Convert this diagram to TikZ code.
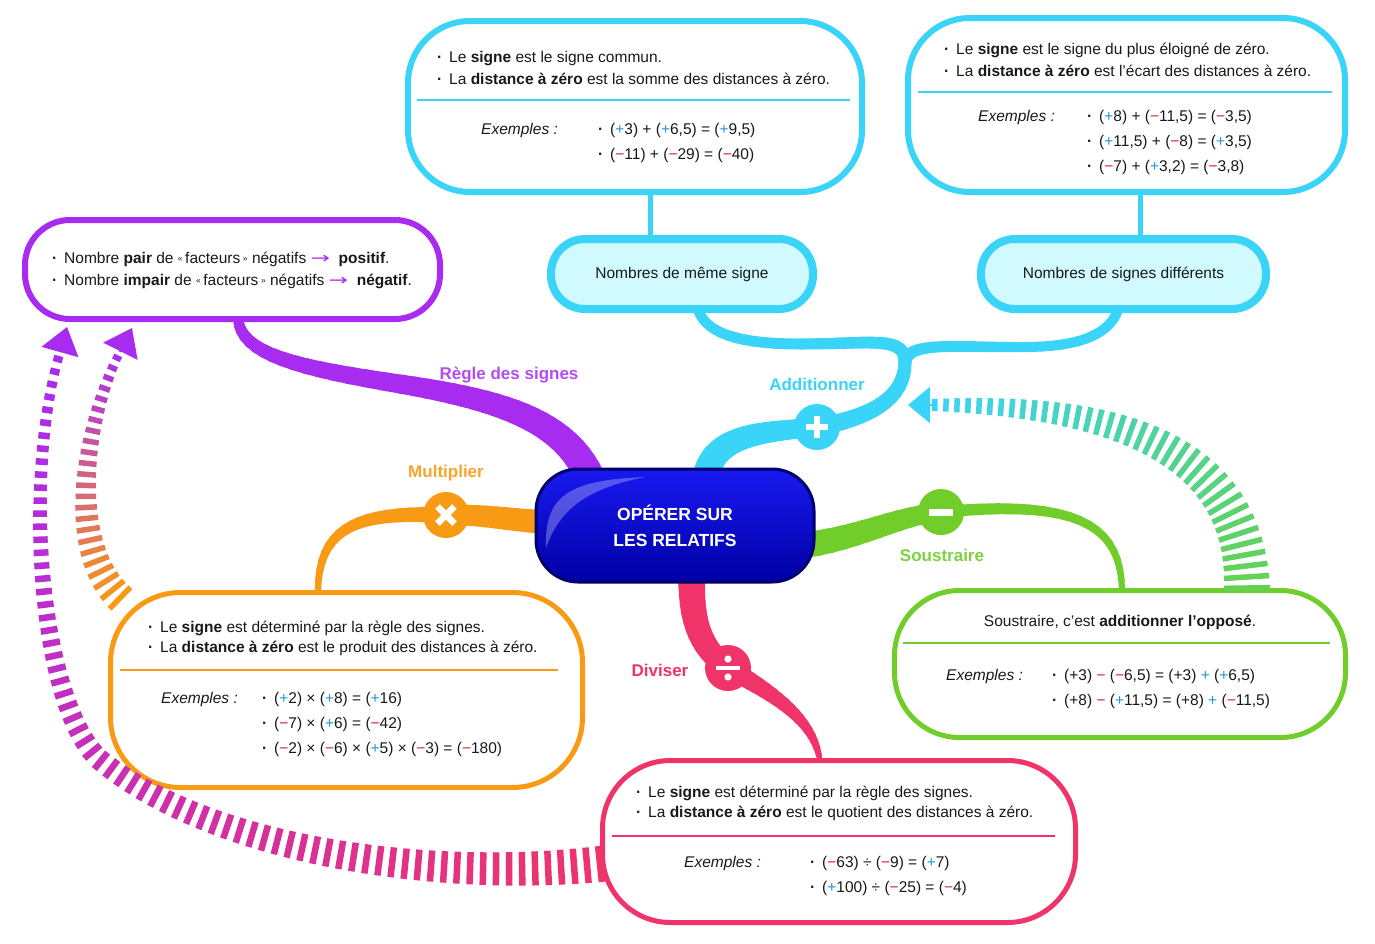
\documentclass[tikz,border=0pt]{standalone}
\usepackage{fontspec}
\usepackage{graphicx}
\setmainfont{Liberation Sans}
\newfontfamily\symf{DejaVu Sans}
\usetikzlibrary{arrows.meta,decorations.markings}
\pgfdeclarelayer{back}
\pgfdeclarelayer{bg}
\pgfsetlayers{back,bg,main}
\definecolor{cya}{RGB}{58,212,248}
\definecolor{cyafill}{RGB}{208,250,255}
\definecolor{pur}{RGB}{168,44,240}
\definecolor{ora}{RGB}{249,154,20}
\definecolor{gre}{RGB}{112,205,42}
\definecolor{grearr}{RGB}{100,210,80}
\definecolor{pnk}{RGB}{240,52,106}
\definecolor{sgnred}{RGB}{220,30,30}
\definecolor{sgnblue}{RGB}{30,150,225}
\definecolor{txtc}{RGB}{25,25,25}
\definecolor{hubtop}{RGB}{25,25,240}
\definecolor{hubbot}{RGB}{0,0,165}
\definecolor{hubdark}{RGB}{0,0,110}
\newcommand\mytx{\fontsize{15.5}{18}\selectfont}
\newcommand\sgp{{\color{sgnblue}+}}
\newcommand\sgm{{\color{sgnred}−}}
\newcommand\mybul{\makebox[12pt][l]{\textbf{·}}}
\newcommand\mygl[1]{\raisebox{1.5pt}{\scalebox{0.55}{#1}}}
\newcommand\myarr{{\color{pur}\symf\scalebox{1.5}[1]{→}}}
\newcommand\tpath[8]{%
  \foreach \ii in {1,...,#5}{%
    \pgfmathsetmacro\tpA{(\ii-1)/#5}%
    \pgfmathsetmacro\tpB{\ii/#5}%
    \pgfmathsetmacro\tpW{#6+(#7-#6)*(\ii-0.5)/#5}%
    \path #1 .. controls #2 and #3 .. #4 coordinate[pos=\tpA] (qa) coordinate[pos=\tpB] (qb);%
    \draw[line width=\tpW pt, draw=#8, line cap=round] (qa) -- (qb);%
  }%
}
\tikzset{
  gdash/.style n args={5}{decorate, decoration={markings,
     mark=between positions 0 and 1 step #1 with {%
       \pgfmathsetmacro\gdf{\pgfkeysvalueof{/pgf/decoration/mark info/distance from start}/\pgfdecoratedpathlength}%
       \pgfmathsetmacro\gdw{#2+(#3-#2)*\gdf}%
       \pgfmathtruncatemacro\gdp{100*(1-\gdf)}%
       \draw[line width=\gdw pt, draw=#4!\gdp!#5, line cap=butt] (-0.25*#1,0pt) -- (0.25*#1,0pt);
     }}}
}
\begin{document}
\begin{tikzpicture}[x=1pt,y=-1pt,
  txt/.style={anchor=base west, inner sep=0pt, font=\mytx, text=txtc},
  exm/.style={txt, font=\mytx\itshape},
  blob/.style={draw, fill=white, rounded corners=#1, inner sep=0pt},
  lab/.style={font=\fontsize{17}{17}\selectfont\bfseries, inner sep=0pt},
  sepl/.style={line width=1.3pt},
  opc/.style={circle, minimum size=46pt, inner sep=0pt},
  sym/.style={white, line width=6.5pt},
  parrow/.style={-{Triangle[width=38pt,length=26pt]}, line width=2pt},
]
\begin{pgfonlayer}{back}
\fill[white] (0,0) rectangle (1375,943);
\end{pgfonlayer}
\useasboundingbox (0,0) rectangle (1375,943);

% ---------- boxes ----------
\node[blob=62pt, draw=cya, line width=6pt, minimum width=454pt, minimum height=171pt] (bSame) at (635,106.5) {};
\node[blob=62pt, draw=cya, line width=6pt, minimum width=437pt, minimum height=174pt] (bDiff) at (1126.5,105) {};
\node[blob=34pt, draw=cya, fill=cyafill, line width=8pt, minimum width=262pt, minimum height=70pt, font=\mytx, text=txtc] (pSame) at (682,274) {Nombres de même signe};
\node[blob=34pt, draw=cya, fill=cyafill, line width=8pt, minimum width=285pt, minimum height=70pt, font=\mytx, text=txtc] (pDiff) at (1123.5,274) {Nombres de signes différents};
\node[blob=45pt, draw=pur, line width=6pt, minimum width=415pt, minimum height=99pt] (bPur) at (232.5,269.5) {};
\node[blob=70pt, draw=ora, line width=5pt, minimum width=472pt, minimum height=195pt] (bOra) at (346.5,690) {};
\node[blob=65pt, draw=gre, line width=5pt, minimum width=451pt, minimum height=147pt] (bGre) at (1120,664) {};
\node[blob=68pt, draw=pnk, line width=5pt, minimum width=473pt, minimum height=162pt] (bPnk) at (839,841.5) {};

% ---------- hub and operation circles ----------
\node[rounded corners=42pt, minimum width=278pt, minimum height=113pt, draw=hubdark, line width=3pt,
      top color=hubtop, bottom color=hubbot, text=white,
      font=\fontsize{17.5}{26}\selectfont\bfseries, align=center] (hub) at (675,525.5) {OPÉRER SUR\\LES RELATIFS};
\fill[white, fill opacity=0.28] (546,548) .. controls (544,495) and (570,480) .. (645,477)
      .. controls (590,488) and (560,507) .. (546,548) -- cycle;

\node[opc, fill=cya] (cplus) at (817,427) {};
\node[opc, fill=ora] (cmul) at (446,515) {};
\node[opc, fill=gre] (cmin) at (941,512) {};
\node[opc, fill=pnk] (cdiv) at (728,668) {};

\draw[sym] ([xshift=-11pt]cplus.center) -- ([xshift=11pt]cplus.center);
\draw[sym] ([yshift=-11pt]cplus.center) -- ([yshift=11pt]cplus.center);
\draw[sym] ([shift={(-8.5pt,-8.5pt)}]cmul.center) -- ([shift={(8.5pt,8.5pt)}]cmul.center);
\draw[sym] ([shift={(-8.5pt,8.5pt)}]cmul.center) -- ([shift={(8.5pt,-8.5pt)}]cmul.center);
\draw[sym, line width=7pt] ([xshift=-12pt]cmin.center) -- ([xshift=12pt]cmin.center);
\draw[sym, line width=4.5pt] ([xshift=-12pt]cdiv.center) -- ([xshift=12pt]cdiv.center);
\fill[white] ([yshift=9pt]cdiv.center) circle (3.6pt);
\fill[white] ([yshift=-9pt]cdiv.center) circle (3.6pt);

% ---------- labels ----------
\node[lab, text=cya] (lAdd) at (817,384) {Additionner};
\node[lab, text=pur!85!white] (lRegle) at (509,375) {Règle des signes};
\node[lab, text=ora!90!white] (lMul) at (446,473) {Multiplier};
\node[lab, text=gre!90!white] (lSous) at (942,555) {Soustraire};
\node[lab, text=pnk] (lDiv) at (660,670) {Diviser};

% ---------- branches (background) ----------
\coordinate (cyA) at (706,478);
\coordinate (cyS) at (905,362);
\coordinate (cyM) at (800,344);
\coordinate (cyL) at (698,310);
\coordinate (cyM2) at (1030,347);
\coordinate (cyR) at (1118,310);
\coordinate (puA) at (590,478);
\coordinate (puM) at (400,384);
\coordinate (puB) at (238,318);
\coordinate (orA) at (545,522);
\coordinate (orB) at (318,592);
\coordinate (grA) at (805,545);
\coordinate (grB) at (1122,592);
\coordinate (pkA) at (692,575);
\coordinate (pkB) at (820,762);
\begin{pgfonlayer}{bg}
\draw[cya, line width=5pt] ([xshift=15pt]bSame.south) -- ([xshift=-32pt]pSame.north);
\draw[cya, line width=5pt] ([xshift=13.5pt]bDiff.south) -- ([xshift=16.5pt]pDiff.north);
\tpath{(cyA)}{(712,432)}{(770,432)}{(cplus.center)}{20}{27}{18}{cya}
\tpath{(cplus.center)}{(868,418)}{(905,400)}{(cyS)}{16}{18}{13}{cya}
\tpath{(cyS)}{(905,335)}{(870,344)}{(cyM)}{14}{13}{11}{cya}
\tpath{(cyM)}{(735,344)}{(706,332)}{(cyL)}{14}{11}{10}{cya}
\tpath{(cyS)}{(908,340)}{(960,348)}{(cyM2)}{14}{12}{10}{cya}
\tpath{(cyM2)}{(1085,346)}{(1110,332)}{(cyR)}{14}{10}{10}{cya}
\tpath{(puA)}{(565,420)}{(500,400)}{(puM)}{22}{30}{19}{pur}
\tpath{(puM)}{(300,368)}{(240,355)}{(puB)}{16}{19}{10}{pur}
\tpath{(orA)}{(510,520)}{(480,514)}{(cmul.center)}{10}{24}{20}{ora}
\tpath{(cmul.center)}{(365,512)}{(318,522)}{(orB)}{18}{16}{6}{ora}
\tpath{(grA)}{(860,538)}{(900,515)}{(cmin.center)}{12}{26}{18}{gre}
\tpath{(cmin.center)}{(1070,500)}{(1122,520)}{(grB)}{18}{12}{6}{gre}
\tpath{(pkA)}{(690,625)}{(703,650)}{(cdiv.center)}{14}{27}{21}{pnk}
\tpath{(cdiv.center)}{(775,695)}{(815,720)}{(pkB)}{18}{20}{5}{pnk}
\end{pgfonlayer}

% ---------- texts: same sign ----------
\node[txt] (sA1) at (437,62) {\mybul Le \textbf{signe} est le signe commun.};
\node[txt] (sA2) at (437,84) {\mybul La \textbf{distance à zéro} est la somme des distances à zéro.};
\draw[cya, sepl] (417,100) -- (850,100);
\node[exm] (sAe) at (481,134) {Exemples :};
\node[txt] (sAx1) at (598,134) {\mybul (\sgp3) + (\sgp6,5) = (\sgp9,5)};
\node[txt] (sAx2) at (598,159) {\mybul (\sgm11) + (\sgm29) = (\sgm40)};

% ---------- texts: different signs ----------
\node[txt] (sB1) at (944,54) {\mybul Le \textbf{signe} est le signe du plus éloigné de zéro.};
\node[txt] (sB2) at (944,76) {\mybul La \textbf{distance à zéro} est l’écart des distances à zéro.};
\draw[cya, sepl] (918,92) -- (1332,92);
\node[exm] (sBe) at (978,121) {Exemples :};
\node[txt] (sBx1) at (1087,121) {\mybul (\sgp8) + (\sgm11,5) = (\sgm3,5)};
\node[txt] (sBx2) at (1087,146) {\mybul (\sgp11,5) + (\sgm8) = (\sgp3,5)};
\node[txt] (sBx3) at (1087,171) {\mybul (\sgm7) + (\sgp3,2) = (\sgm3,8)};

% ---------- texts: rule of signs ----------
\node[txt] (rP1) at (52,263) {\mybul Nombre \textbf{pair} de \mygl{«}\,facteurs\,\mygl{»} négatifs \myarr\ \ \textbf{positif}.};
\node[txt] (rP2) at (52,285) {\mybul Nombre \textbf{impair} de \mygl{«}\,facteurs\,\mygl{»} négatifs \myarr\ \ \textbf{négatif}.};

% ---------- texts: multiply ----------
\node[txt] (mO1) at (148,632) {\mybul Le \textbf{signe} est déterminé par la règle des signes.};
\node[txt] (mO2) at (148,652) {\mybul La \textbf{distance à zéro} est le produit des distances à zéro.};
\draw[ora, sepl] (120,670) -- (558,670);
\node[exm] (mOe) at (161,703) {Exemples :};
\node[txt] (mOx1) at (262,703) {\mybul (\sgp2) × (\sgp8) = (\sgp16)};
\node[txt] (mOx2) at (262,728) {\mybul (\sgm7) × (\sgp6) = (\sgm42)};
\node[txt] (mOx3) at (262,753) {\mybul (\sgm2) × (\sgm6) × (\sgp5) × (\sgm3) = (\sgm180)};

% ---------- texts: subtract ----------
\node[txt, anchor=base] (gS1) at (1120,626) {Soustraire, c’est \textbf{additionner l’opposé}.};
\draw[gre, sepl] (903,643) -- (1330,643);
\node[exm] (gSe) at (946,680) {Exemples :};
\node[txt] (gSx1) at (1052,680) {\mybul (+3) \sgm\ (\sgm6,5) = (+3) \sgp\ (\sgp6,5)};
\node[txt] (gSx2) at (1052,705) {\mybul (+8) \sgm\ (\sgp11,5) = (+8) \sgp\ (\sgm11,5)};

% ---------- texts: divide ----------
\node[txt] (dP1) at (636,797) {\mybul Le \textbf{signe} est déterminé par la règle des signes.};
\node[txt] (dP2) at (636,817) {\mybul La \textbf{distance à zéro} est le quotient des distances à zéro.};
\draw[pnk, sepl] (612,836) -- (1055,836);
\node[exm] (dPe) at (684,867) {Exemples :};
\node[txt] (dPx1) at (810,867) {\mybul (\sgm63) ÷ (\sgm9) = (\sgp7)};
\node[txt] (dPx2) at (810,892) {\mybul (\sgp100) ÷ (\sgm25) = (\sgm4)};

% ---------- dashed gradient arrows ----------
\coordinate (gA) at (1247,588);
\coordinate (gB) at (932,405);
\coordinate (gT) at (908,405);
\path[gdash={11pt}{46}{12}{grearr}{cya}] (gA) .. controls (1245,440) and (1100,405) .. (gB);
\draw[parrow, cya, -{Triangle[width=36pt,length=22pt]}] (gB) -- (gT);

\coordinate (oA) at (120,598);
\coordinate (oB) at (120,352);
\coordinate (oT) at (132,328);
\path[gdash={11pt}{30}{8}{ora}{pur}] (oA) .. controls (65,545) and (85,420) .. (oB);
\draw[parrow, pur] (oB) -- (oT);

\coordinate (pA) at (600,864);
\coordinate (pM) at (100,760);
\coordinate (pB) at (60,352);
\coordinate (pT) at (67,327);
\path[gdash={13pt}{36}{9}{pnk}{pur}] (pA) .. controls (430,882) and (210,850) .. (pM)
      .. controls (40,705) and (22,480) .. (pB);
\draw[parrow, pur] (pB) -- (pT);
\end{tikzpicture}
\end{document}
